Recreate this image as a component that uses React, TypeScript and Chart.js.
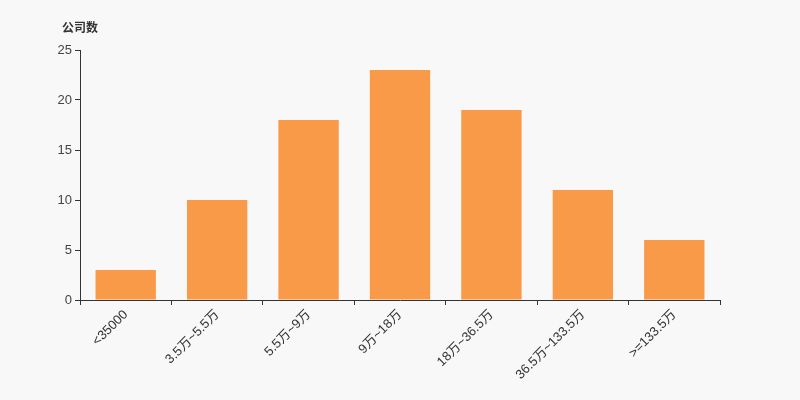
import React, { useEffect, useRef } from "react";
import { Chart, registerables } from "chart.js";

Chart.register(...registerables);

const categories = ["<35000", "3.5万~5.5万", "5.5万~9万", "9万~18万", "18万~36.5万", "36.5万~133.5万", ">=133.5万"];
const companyCounts = [3, 10, 18, 23, 19, 11, 6];
const yTitle = "公司数";

const FONT = "'Liberation Sans', Arial, 'Noto Sans CJK SC', sans-serif";

export default function App() {
  const ref = useRef<HTMLCanvasElement>(null);
  useEffect(() => {
    document.body.style.margin = "0";
    const titlePlugin = {
      id: "yTitle",
      afterDraw(chart: any) {
        const ctx = chart.ctx;
        ctx.save();
        ctx.font = `bold 12px 'Noto Sans CJK SC', sans-serif`;
        ctx.fillStyle = "#333";
        ctx.textAlign = "left";
        ctx.textBaseline = "middle";
        ctx.fillText(yTitle, 62, 27);
        ctx.restore();
      },
    };
    const chart = new Chart(ref.current!, {
      type: "bar",
      data: {
        labels: categories,
        datasets: [
          {
            data: companyCounts,
            backgroundColor: "#f89a48",
            categoryPercentage: 1,
            barPercentage: 0.66,
          },
        ],
      },
      options: {
        animation: false,
        responsive: false,
        maintainAspectRatio: false,
        layout: { padding: { left: 0, right: 80, top: 50, bottom: 0 } },
        plugins: { legend: { display: false }, tooltip: { enabled: false } },
        scales: {
          x: {
            grid: { drawOnChartArea: false, drawTicks: true, tickLength: 5, color: "#333", offset: true },
            border: { color: "#333", width: 1 },
            ticks: {
              maxRotation: 45,
              minRotation: 45,
              autoSkip: false,
              color: "#333",
              font: { family: FONT, size: 13 },
              padding: 2,
            },
            afterFit(scale: any) {
              scale.height = 100;
            },
          },
          y: {
            min: 0,
            max: 25,
            grid: { drawOnChartArea: false, drawTicks: true, tickLength: 5, color: "#333" },
            border: { color: "#333", width: 1 },
            ticks: {
              stepSize: 5,
              color: "#444",
              font: { family: FONT, size: 13 },
              padding: 3,
            },
            afterFit(scale: any) {
              scale.width = 80;
            },
          },
        },
      },
      plugins: [titlePlugin],
    });
    return () => chart.destroy();
  }, []);
  return (
    <div style={{ position: "fixed", left: 0, top: 0, width: 800, height: 400, background: "#f8f8f8" }}>
      <canvas ref={ref} width={800} height={400} style={{ display: "block" }} />
    </div>
  );
}
